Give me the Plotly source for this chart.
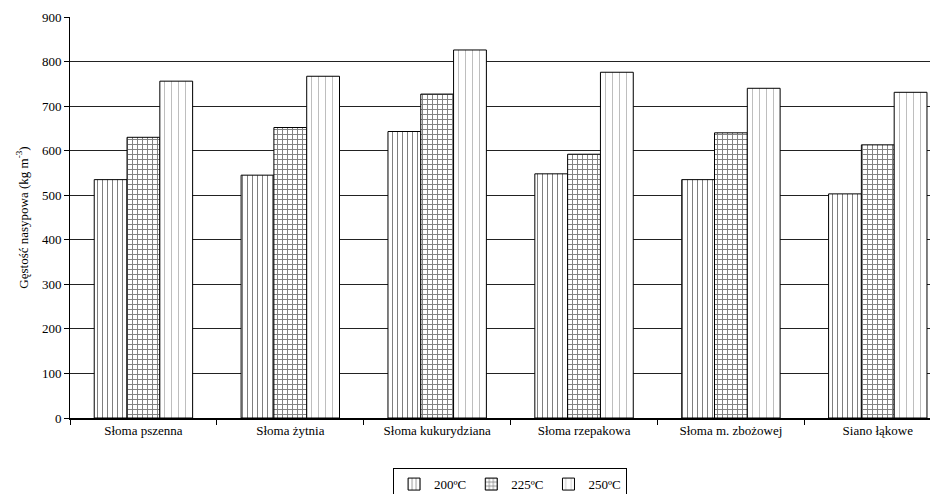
import plotly.graph_objects as go

categories = ["Słoma pszenna", "Słoma żytnia", "Słoma kukurydziana", "Słoma rzepakowa", "Słoma m. zbożowej", "Siano łąkowe"]
series_names = ["200ºC", "225ºC", "250ºC"]
v200 = [535, 545, 643, 548, 535, 503]
v225 = [630, 652, 727, 592, 640, 613]
v250 = [756, 767, 826, 776, 740, 731]
y_ticks = [0, 100, 200, 300, 400, 500, 600, 700, 800, 900]

patterns = [
    dict(shape="|", fgcolor="black", bgcolor="white", size=5, solidity=0.2),
    dict(shape="+", fgcolor="black", bgcolor="white", size=5, solidity=0.35),
    dict(shape="|", fgcolor="#444444", bgcolor="white", size=7, solidity=0.1),
]

fig = go.Figure()
for name, vals, pat in zip(series_names, [v200, v225, v250], patterns):
    fig.add_trace(go.Bar(
        x=categories, y=vals, name=name,
        marker=dict(color="white", pattern=pat, line=dict(color="black", width=1)),
    ))

# The page body adds an 8px margin, so the figure is sized to fit inside it.
font = "Liberation Serif, Times New Roman, serif"
fig.update_layout(
    width=930, height=486,
    margin=dict(l=62, r=0, t=9, b=76, autoexpand=False),
    paper_bgcolor="white", plot_bgcolor="white",
    barmode="group", bargap=0.33, bargroupgap=0,
    font=dict(family=font, size=13, color="black"),
    legend=dict(orientation="h", x=0.507, xanchor="center", y=-0.125, yanchor="top",
                bordercolor="black", borderwidth=1, font=dict(size=13),
                itemwidth=30, tracegroupgap=0),
    showlegend=True,
    xaxis=dict(range=[-0.5, 5.41], showline=True, linecolor="black", linewidth=1.5,
               ticks="outside", tickson="boundaries", ticklen=5, tickcolor="black",
               showgrid=False, tickfont=dict(size=13)),
    yaxis=dict(range=[0, 900], tickvals=y_ticks, showline=True, linecolor="black",
               linewidth=1, ticks="outside", ticklen=5, tickcolor="black",
               showgrid=True, gridcolor="#222222", gridwidth=1, zeroline=False,
               title=dict(text="Gęstość nasypowa (kg m<sup>-3</sup>)", standoff=10, font=dict(size=13)),
               tickfont=dict(size=13)),
)
fig.write_html("out.html")
